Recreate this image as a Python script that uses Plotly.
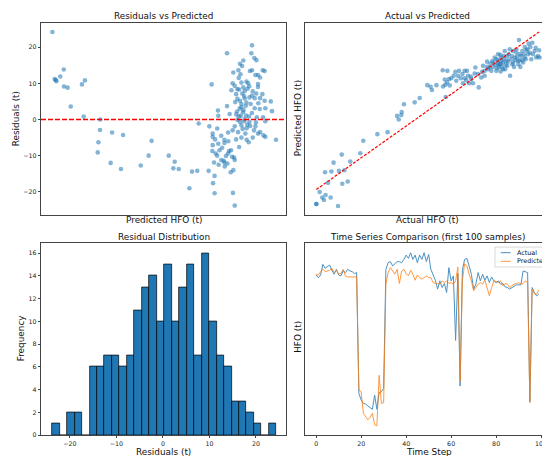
import plotly.graph_objects as go
from plotly.subplots import make_subplots

# residuals vs predicted (top left)
resid_pred = [26.5, 27.8, 28.4, 28.8, 31.0, 33.0, 33.1, 35.2, 37.0, 43.4, 45.1, 44.4, 53.9, 53.7, 52.8,
              52.4, 60.6, 66.9, 59.8, 65.7, 77.0, 81.5, 83.2, 93.0, 96.4, 95.6, 98.7, 104.8, 106.3, 109.3,
              110.1, 115.8, 116.2, 117.5, 118.1, 118.1, 118.1, 117.9, 118.3, 119.2, 118.9, 119.2, 119.8,
              120.7, 121.1, 121.3, 120.7, 121.3, 123.0, 123.0, 124.4, 124.8, 124.8, 124.8, 125.7, 126.9,
              127.5, 128.6, 128.4, 129.9, 129.7, 130.7, 126.3, 126.3, 127.8, 126.9, 129.2, 130.3, 130.7,
              129.5, 129.9, 128.8, 129.5, 140.6, 140.2, 141.9, 143.1, 135.6, 133.7, 134.9, 139.4, 140.6,
              146.7, 147.8, 132.8, 142.5, 144.0, 145.2, 130.7, 134.5, 137.4, 138.3, 135.6, 144.0, 144.0,
              132.2, 133.2, 136.4, 146.5, 140.6, 145.2, 142.1, 132.2, 133.7, 136.4, 139.1, 147.8, 151.3,
              134.5, 137.4, 139.8, 144.2, 134.5, 142.1, 148.2, 152.0, 131.6, 135.4, 137.2, 138.9, 145.0,
              143.3, 146.9, 148.2, 132.2, 136.4, 139.1, 130.7, 134.5, 137.9, 142.5, 133.7, 132.6, 136.8,
              141.7, 145.2, 147.1, 148.2, 154.3, 134.5, 137.5, 138.7, 141.0, 144.0, 133.2, 133.0, 134.0,
              131.5, 135.0, 136.0, 133.5, 135.8, 134.2, 136.0, 133.0, 137.0, 138.0, 139.0, 141.0, 143.0,
              131.0, 132.0, 135.2, 137.5, 139.5, 140.5, 142.8, 131.5, 127.0, 122.0, 125.0, 121.5, 126.5,
              119.5, 123.5]
resid_vals = [24.2, 11.2, 10.9, 10.6, 11.9, 13.8, 9.1, 8.8, 3.6, 9.7, 10.8, 0.8, 0.0, -2.9, -6.3,
              -9.1, -3.6, -4.3, -12.0, -13.7, -12.7, -10.0, -5.9, -10.0, -11.7, -13.5, -13.7, -19.0, -14.4, -14.2,
              -1.1, -14.2, -1.9, 9.7, -3.9, -4.8, -7.1, -8.7, -17.6, -20.4, -11.9, -15.6, -9.4,
              -10.0, 2.5, 1.0, -2.5, -6.7, -4.5, -11.2, -11.4, -5.6, -6.5, -11.9, -10.1, -9.4,
              -8.7, -8.5, -14.6, -14.0, -20.3, -23.8, 18.3, 3.7, 1.5, -3.6, -10.3, -10.5, -11.2,
              10.0, 13.0, 8.1, -3.0, 20.5, 18.3, 17.0, 16.4, 16.3, 15.4, 14.8, 13.4, 13.6,
              13.6, 13.4, 13.6, 12.3, 12.3, 11.6, 9.3, 10.2, 10.5, 10.0, 8.9, 9.8, 9.0,
              8.4, 8.3, 7.9, 7.0, 6.6, 5.9, 5.9, 5.7, 5.2, 5.8, 6.1, 5.2, 5.0,
              4.3, 4.7, 4.3, 4.5, 3.4, 3.1, 3.1, 2.3, 1.4, 2.0, 1.1, 0.8, 2.9,
              0.6, 0.6, -0.5, -0.1, 0.1, -0.7, -1.9, -1.6, -1.4, -1.9, -0.7, -3.5, -3.9,
              -3.0, -3.5, -4.4, -4.8, -5.6, -5.0, -5.6, -6.3, -5.0, -3.9, -7.6, 11.5, 12.5,
              7.0, 7.2, 6.5, 3.0, 2.6, 1.0, -0.5, 0.8, 3.8, 8.5, 9.2, 7.8, 7.2,
              4.8, 2.2, -2.6, -2.4, -1.8, 1.8, -0.8, -5.5, -6.0, -8.5, -13.0, -12.5, -12.2,
              -5.5, -7.8]

# actual vs predicted (top right)
avp_actual = [40.1, 40.1, 41.9, 43.3, 44.2, 45.1, 47.8, 46.4, 44.8, 48.2, 49.4, 51.8, 52.3, 54.1, 55.2,
              53.8, 57.0, 58.4, 63.8, 65.4, 73.0, 78.5, 83.6, 84.5, 85.9, 86.1, 87.3, 93.1, 95.8, 99.9,
              101.7, 102.4, 104.8, 108.2, 109.8, 110.7, 109.3, 110.5, 111.6, 108.4, 109.6, 112.0, 112.8,
              114.1, 115.0, 115.5, 116.4, 117.0, 117.9, 118.8, 120.0, 120.0, 120.9, 121.3, 119.1, 122.4,
              124.5, 123.3, 125.8, 127.6, 129.4, 129.9, 130.8, 132.1, 132.6, 133.9, 134.9, 137.1, 138.0,
              138.5, 139.3, 139.8, 140.7, 141.6, 142.8, 143.4, 144.3, 144.5, 145.7, 147.0, 147.9, 148.8,
              149.3, 150.0, 151.1, 152.4, 153.3, 154.5, 155.1, 155.9, 156.5, 158.6, 160.1, 160.4, 151.1,
              154.2, 137.1, 139.3, 135.3, 141.0, 142.1, 138.0, 146.1, 147.9, 152.4, 149.7, 157.7, 139.4,
              133.5, 134.4, 135.7, 136.2, 136.7, 137.5, 138.2, 138.9, 139.6, 140.1, 140.7, 141.2, 141.8,
              142.5, 143.0, 143.7, 144.8, 145.4, 146.1, 146.6, 147.3, 148.2, 148.9, 149.7, 150.4, 151.5,
              152.0, 152.9, 153.8, 155.4, 156.8, 158.3, 159.5, 132.1, 130.8, 129.0, 127.2, 125.4, 123.6,
              121.8]
avp_pred = [29.1, 29.1, 38.2, 34.1, 32.1, 35.9, 34.1, 45.2, 53.3, 53.8, 60.6, 27.6, 54.3, 44.5, 54.8,
            66.7, 46.2, 61.4, 67.7, 77.3, 82.3, 83.8, 96.2, 93.4, 96.9, 99.2, 105.0, 106.5, 109.8, 119.6,
            118.4, 115.9, 119.6, 131.0, 110.6, 130.5, 123.9, 121.7, 124.2, 118.6, 119.9, 119.4, 124.9,
            126.7, 129.7, 122.9, 126.7, 130.5, 124.9, 128.0, 130.5, 124.9, 123.4, 130.5, 121.1, 121.1,
            121.1, 126.2, 133.0, 117.9, 129.7, 134.3, 126.7, 137.5, 131.7, 136.0, 138.0, 139.3, 136.0,
            133.5, 142.8, 138.0, 131.7, 145.6, 141.3, 137.5, 146.9, 126.7, 135.5, 140.6, 144.3, 138.0,
            153.9, 133.5, 145.6, 140.6, 146.1, 151.2, 144.3, 139.3, 151.9, 140.6, 146.1, 140.6, 138.5,
            143.1, 130.5, 135.5, 133.5, 139.3, 135.0, 143.1, 145.6, 146.9, 148.6, 143.1, 145.6, 130.0,
            133.0, 130.5, 136.8, 140.6, 135.0, 132.5, 138.6, 135.5, 140.6, 133.5, 136.8, 141.8, 131.7,
            138.0, 134.3, 143.1, 139.3, 141.8, 136.8, 133.5, 138.6, 141.1, 135.5, 138.6, 141.8, 136.8,
            143.1, 139.3, 146.9, 148.6, 143.1, 148.1, 141.8, 133.5, 130.5, 125.4, 128.0, 128.5, 124.2,
            126.7]

# residual histogram (bottom left): 30 bins
hist_start = -23.8
hist_width = 1.606
hist_counts = [1, 0, 2, 2, 0, 6, 6, 7, 7, 6, 7, 11, 13, 14, 10, 15, 10, 13, 15, 7, 16, 10, 7, 6, 3, 3, 2, 1, 0, 1]

# time series, first 100 samples (bottom right)
ts_actual = [142.3, 140.3, 142.3, 150.4, 147.4, 148.4, 149.9, 145.9, 142.9, 146.6,
             142.3, 141.6, 145.4, 144.1, 146.6, 145.4, 144.9, 143.4, 144.1, 51.8,
             46.8, 44.2, 43.7, 42.2, 41.2, 39.7, 50.5, 39.7, 52.3, 53.1,
             55.6, 146.6, 151.7, 152.5, 149.2, 150.9, 152.5, 152.5, 151.7, 154.2,
             157.5, 155.0, 159.3, 154.2, 157.5, 151.7, 157.5, 154.2, 159.3, 152.5,
             158.0, 146.6, 142.9, 138.3, 131.5, 137.8, 132.7, 135.8, 128.9, 147.9,
             137.8, 141.6, 92.3, 143.4, 57.4, 145.9, 154.2, 155.0, 149.2, 142.9,
             131.5, 135.3, 144.1, 137.8, 142.9, 138.3, 141.6, 136.5, 140.8, 137.8,
             136.5, 137.8, 135.3, 135.8, 133.2, 132.7, 131.5, 132.7, 134.0, 134.8,
             134.8, 134.8, 145.4, 144.9, 144.1, 45.5, 132.7, 128.9, 126.4, 127.7]
ts_pred = [142.9, 142.3, 144.9, 146.6, 144.9, 145.4, 145.9, 147.4, 144.1, 145.9,
           142.9, 143.4, 146.6, 141.6, 140.8, 140.8, 140.8, 140.8, 140.8, 54.3,
           53.1, 36.6, 33.6, 31.6, 33.6, 36.6, 27.8, 27.0, 65.7, 44.2,
           44.7, 135.3, 144.1, 147.9, 145.4, 142.9, 146.6, 135.8, 145.4, 146.6,
           143.4, 141.6, 145.9, 142.9, 138.3, 142.3, 140.3, 139.1, 140.3, 141.6,
           140.3, 140.3, 136.5, 135.8, 135.8, 135.3, 137.8, 136.5, 137.8, 135.8,
           136.5, 135.3, 137.8, 148.4, 60.7, 137.8, 150.9, 149.2, 142.9, 137.8,
           130.2, 132.7, 135.3, 136.5, 135.3, 138.3, 131.5, 126.4, 132.7, 137.8,
           137.3, 136.5, 137.8, 134.0, 135.8, 135.3, 132.7, 134.0, 135.3, 135.8,
           136.5, 135.3, 135.8, 137.8, 136.5, 44.7, 131.5, 128.2, 127.7, 130.7]
series_names = ['Actual', 'Predicted']

W, H = 550, 456
BLUE = '#1f77b4'
ORANGE = '#ff7f0e'
FONT = 'DejaVu Sans'

tl_xrange = [20, 160]

def px(x):
    return x / W

def py(y):
    return 1 - y / H

fig = make_subplots(rows=2, cols=2)

pt = dict(size=4.6, color=BLUE, opacity=0.55, line=dict(width=0))
fig.add_trace(go.Scatter(x=resid_pred, y=resid_vals, mode='markers', marker=pt), row=1, col=1)
# zero line across the whole panel
fig.add_trace(go.Scatter(x=tl_xrange, y=[0, 0], mode='lines',
                         line=dict(color='#ff0000', width=1.6, dash='5px,2px')), row=1, col=1)

fig.add_trace(go.Scatter(x=avp_actual, y=avp_pred, mode='markers', marker=pt), row=1, col=2)
lo, hi = min(avp_actual), max(avp_actual)
fig.add_trace(go.Scatter(x=[lo, hi], y=[lo, hi], mode='lines',
                         line=dict(color='#ff0000', width=1.2, dash='3px,1.5px')), row=1, col=2)

centers = [hist_start + hist_width * (i + 0.5) for i in range(len(hist_counts))]
fig.add_trace(go.Bar(x=centers, y=hist_counts, width=hist_width,
                     marker=dict(color=BLUE, line=dict(color='black', width=0.7))), row=2, col=1)

steps = list(range(len(ts_actual)))
fig.add_trace(go.Scatter(x=steps, y=ts_actual, mode='lines', name=series_names[0], opacity=0.8,
                         line=dict(color=BLUE, width=1)), row=2, col=2)
fig.add_trace(go.Scatter(x=steps, y=ts_pred, mode='lines', name=series_names[1], opacity=0.8,
                         line=dict(color=ORANGE, width=1)), row=2, col=2)

ax = dict(showline=True, mirror=True, linecolor='#444', linewidth=0.8, showgrid=False, zeroline=False,
          ticks='outside', ticklen=2.2, tickwidth=0.6, tickcolor='#444',
          tickfont=dict(family=FONT, size=6.3, color='#222'))
noticks = dict(ax, showticklabels=False, ticks='')

left = [px(33), px(278)]
right = [px(297), px(542)]
top = [py(208), py(15)]
bottom = [py(430), py(237)]

fig.update_layout(
    width=W, height=H, margin=dict(l=0, r=0, t=0, b=0),
    plot_bgcolor='rgba(0,0,0,0)', paper_bgcolor='white', bargap=0, showlegend=False,
    font=dict(family=FONT, color='#222'),
    xaxis=dict(noticks, domain=left, range=tl_xrange),
    yaxis=dict(ax, domain=top, range=[-26.3, 26.7], tickvals=[-20, -10, 0, 10, 20]),
    xaxis2=dict(noticks, domain=right, range=[34, 166]),
    yaxis2=dict(noticks, domain=top, range=[21, 167]),
    xaxis3=dict(ax, domain=left, range=[-26.2, 26.45], tickvals=[-20, -10, 0, 10, 20]),
    yaxis3=dict(ax, domain=bottom, range=[0, 16.85], dtick=2),
    xaxis4=dict(ax, domain=right, range=[-4.95, 103.95], dtick=20),
    yaxis4=dict(noticks, domain=bottom, range=[19.9, 166.4]),
)

def label(text, x, y, size=8.9, angle=0, anchor='center'):
    fig.add_annotation(text=text, x=px(x), y=py(y), xref='paper', yref='paper', showarrow=False,
                       xanchor=anchor, yanchor='middle', textangle=angle,
                       font=dict(family=FONT, size=size, color='#111'))

# subplot titles
label('Residuals vs Predicted', 155.5, 8.5)
label('Actual vs Predicted', 419.5, 8.5)
label('Residual Distribution', 155.5, 230.5)
label('Time Series Comparison (first 100 samples)', 419.5, 230.5)
# axis titles
label('Predicted HFO (t)', 155.5, 213.5)
label('Actual HFO (t)', 419.5, 213.5)
label('Residuals (t)', 155.5, 447)
label('Time Step', 420.5, 447)
label('Residuals (t)', 8, 112, angle=-90)
label('Predicted HFO (t)', 290, 111, angle=-90)
label('Frequency', 12.5, 333, angle=-90)
label('HFO (t)', 290, 331, angle=-90)

# matplotlib-style legend box, upper right of the time series panel
fig.add_shape(type='rect', xref='paper', yref='paper', x0=px(487), x1=px(541), y0=py(260.7), y1=py(240.7),
              line=dict(color='#d0d0d0', width=0.8), fillcolor='rgba(255,255,255,0.8)', layer='below')
for name, color, yy in zip(series_names, [BLUE, ORANGE], [246.3, 255.0]):
    fig.add_shape(type='line', xref='paper', yref='paper', x0=px(492.7), x1=px(502.7), y0=py(yy), y1=py(yy),
                  line=dict(color=color, width=1), opacity=0.8)
    label(name, 507.3, yy, size=6.4, anchor='left')

fig.write_html("out.html")
